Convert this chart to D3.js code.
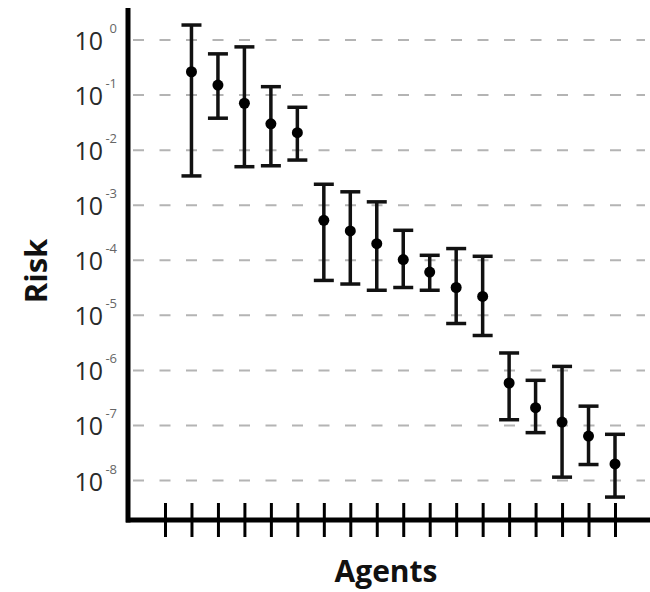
<!DOCTYPE html>
<html>
<head>
<meta charset="utf-8">
<script src="https://cdn.jsdelivr.net/npm/d3@7"></script>
<style>
    body { margin: 0; background: #fff; }
    svg { display: block; font-family: "Open Sans", "DejaVu Sans", sans-serif; }
</style>
</head>
<body>
<svg id="chart"></svg>
<script>
const agents = ["A1", "A2", "A3", "A4", "A5", "A6", "A7", "A8", "A9", "A10", "A11", "A12", "A13", "A14", "A15", "A16", "A17"];
const risk = [2.65e-1, 1.52e-1, 7.1e-2, 3.0e-2, 2.07e-2, 5.3e-4, 3.4e-4, 2.0e-4, 1.03e-4, 6.1e-5, 3.2e-5, 2.2e-5, 5.9e-7, 2.1e-7, 1.15e-7, 6.4e-8, 2.0e-8];
const riskHigh = [1.87, 5.6e-1, 7.5e-1, 1.42e-1, 6.0e-2, 2.4e-3, 1.75e-3, 1.15e-3, 3.5e-4, 1.23e-4, 1.63e-4, 1.18e-4, 2.07e-6, 6.6e-7, 1.18e-6, 2.24e-7, 6.9e-8];
const riskLow = [3.4e-3, 3.8e-2, 5.0e-3, 5.2e-3, 6.6e-3, 4.3e-5, 3.7e-5, 2.85e-5, 3.2e-5, 2.85e-5, 7.1e-6, 4.3e-6, 1.27e-7, 7.4e-8, 1.15e-8, 1.95e-8, 5.0e-9];
const exponents = [0, -1, -2, -3, -4, -5, -6, -7, -8];

const width = 650;
const height = 592;

const svg = d3.select("#chart")
    .attr("width", width)
    .attr("height", height);

const data = agents.map((a, i) => ({ i: i + 1, v: risk[i], hi: riskHigh[i], lo: riskLow[i] }));

// slot 0 on the axis is an empty tick before the first agent
const xScale = d3.scaleLinear()
    .domain([0, agents.length])
    .range([165, 615]);

const yScale = d3.scaleLog()
    .domain([1e-8, 1])
    .range([480.5, 40]);

// dashed grid
svg.append("g")
    .selectAll("line")
    .data(exponents)
    .enter()
    .append("line")
    .attr("x1", 133)
    .attr("x2", 645)
    .attr("y1", d => yScale(Math.pow(10, d)))
    .attr("y2", d => yScale(Math.pow(10, d)))
    .attr("stroke", "#b4b4b4")
    .attr("stroke-width", 2)
    .attr("stroke-dasharray", "11,15.5");

// y tick labels: 10 with superscript
const yLabels = svg.append("g").selectAll("g")
    .data(exponents)
    .enter()
    .append("g")
    .attr("transform", d => `translate(0, ${yScale(Math.pow(10, d))})`);

yLabels.append("text")
    .attr("x", 103)
    .attr("y", 10)
    .attr("text-anchor", "end")
    .attr("font-size", 25)
    .attr("fill", "#2a2a2a")
    .text("10");

yLabels.append("text")
    .attr("x", 117)
    .attr("y", -7)
    .attr("text-anchor", "end")
    .attr("font-size", 13)
    .attr("fill", "#666")
    .text(d => d === 0 ? "0" : "-" + Math.abs(d));

// x axis with crossing ticks
const xAxis = d3.axisBottom(xScale)
    .tickValues(d3.range(0, agents.length + 1))
    .tickFormat("")
    .tickSizeInner(17)
    .tickSizeOuter(0);

const gx = svg.append("g")
    .attr("transform", "translate(0, 520)")
    .call(xAxis);
gx.select(".domain").remove();
gx.selectAll(".tick line")
    .attr("y1", -17)
    .attr("stroke", "#000")
    .attr("stroke-width", 3);

svg.append("line")
    .attr("x1", 126).attr("x2", 650)
    .attr("y1", 520).attr("y2", 520)
    .attr("stroke", "#000")
    .attr("stroke-width", 5);

svg.append("line")
    .attr("x1", 128).attr("x2", 128)
    .attr("y1", 8).attr("y2", 522.5)
    .attr("stroke", "#000")
    .attr("stroke-width", 5);

// error bars
const bars = svg.append("g")
    .selectAll("g")
    .data(data)
    .enter()
    .append("g")
    .attr("stroke", "#111")
    .attr("stroke-width", 3.5);

bars.append("line")
    .attr("x1", d => xScale(d.i))
    .attr("x2", d => xScale(d.i))
    .attr("y1", d => yScale(d.hi))
    .attr("y2", d => yScale(d.lo));

bars.append("line")
    .attr("x1", d => xScale(d.i) - 10)
    .attr("x2", d => xScale(d.i) + 10)
    .attr("y1", d => yScale(d.hi))
    .attr("y2", d => yScale(d.hi));

bars.append("line")
    .attr("x1", d => xScale(d.i) - 10)
    .attr("x2", d => xScale(d.i) + 10)
    .attr("y1", d => yScale(d.lo))
    .attr("y2", d => yScale(d.lo));

svg.append("g")
    .selectAll("circle")
    .data(data)
    .enter()
    .append("circle")
    .attr("cx", d => xScale(d.i))
    .attr("cy", d => yScale(d.v))
    .attr("r", 5.5)
    .attr("fill", "#000");

// axis titles
svg.append("text")
    .attr("x", 386)
    .attr("y", 582)
    .attr("text-anchor", "middle")
    .attr("font-size", 30)
    .attr("font-weight", "bold")
    .attr("fill", "#111")
    .text("Agents");

svg.append("text")
    .attr("transform", "translate(47, 271) rotate(-90)")
    .attr("text-anchor", "middle")
    .attr("font-size", 31)
    .attr("font-weight", "bold")
    .attr("fill", "#111")
    .text("Risk");
</script>
</body>
</html>
